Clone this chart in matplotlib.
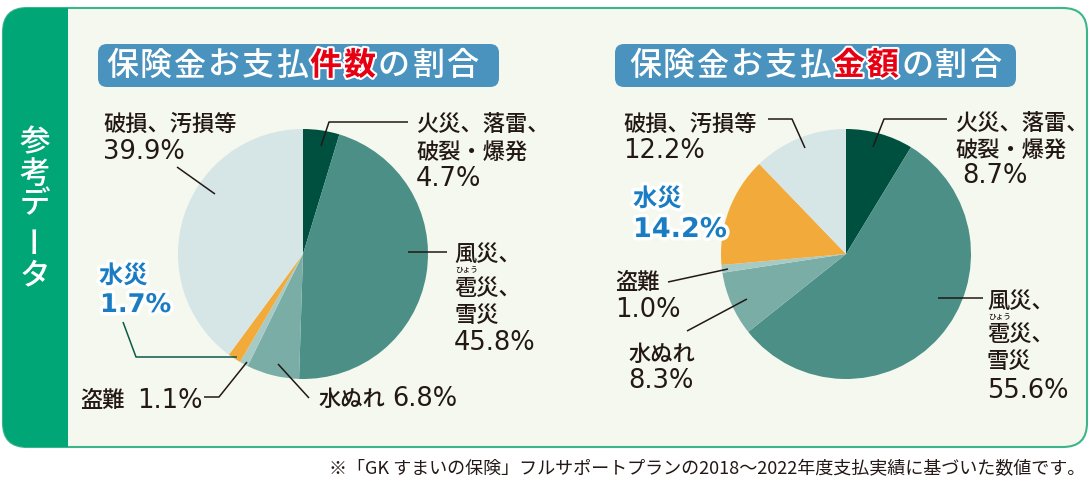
import matplotlib
matplotlib.use("Agg")
import matplotlib.pyplot as plt
import matplotlib.patheffects as pe
from matplotlib.patches import FancyBboxPatch, Rectangle

# data: share of insurance payouts (%) by cause
causes = ["火災、落雷、破裂・爆発", "風災、雹災、雪災", "水ぬれ", "盗難", "水災", "破損、汚損等"]
count_share = [4.7, 45.8, 6.8, 1.1, 1.7, 39.9]
amount_share = [8.7, 55.6, 8.3, 1.0, 14.2, 12.2]
slice_colors = ["#00503f", "#4b8f86", "#7bada7", "#a6cbc6", "#f2ab3b", "#d6e5e5"]
title_left = ["保険金お支払", "件数", "の割合"]
title_right = ["保険金お支払", "金額", "の割合"]
side_title = "参考データ"
footnote = "※「GK すまいの保険」フルサポートプランの2018〜2022年度支払実績に基づいた数値です。"

W, H = 1090, 483
FONT = ["Noto Sans CJK JP", "DejaVu Sans"]
NUM = ["DejaVu Sans"]
TXT = "#231815"
BLUE = "#1a7dc4"
GREEN = "#00a676"
JP_SIZE = 16
NUM_SIZE = 18.5

fig = plt.figure(figsize=(W / 100, H / 100), dpi=100)
fig.patch.set_facecolor("white")
ax = fig.add_axes([0, 0, 1, 1])


def put(x, y, s, size=JP_SIZE, color=TXT, weight="medium", ha="left", family=FONT, **kw):
    return ax.text(x, H - y, s, fontsize=size, color=color, fontweight=weight,
                   ha=ha, va="baseline", family=family, **kw)


def num(x, y, v, size=NUM_SIZE, weight="normal", **kw):
    return put(x, y, f"{v:.1f}%", size=size, family=NUM, weight=weight, **kw)


def leader(pts, color=TXT):
    ax.plot([p[0] for p in pts], [H - p[1] for p in pts], color=color, lw=1.1,
            solid_capstyle="butt", zorder=5)


# outer frame
frame = FancyBboxPatch((3, H - 447), 1084, 439, boxstyle="round,pad=0,rounding_size=24",
                       fc="#f4f8ee", ec="#3db58c", lw=1.5, zorder=0)
ax.add_patch(frame)
strip = FancyBboxPatch((3, H - 447), 1084, 439, boxstyle="round,pad=0,rounding_size=24",
                       fc=GREEN, ec="none", zorder=1)
ax.add_patch(strip)
strip.set_clip_path(Rectangle((0, 0), 68, H, transform=ax.transData))

# vertical side title
for ch, yc in zip(side_title, [143, 174, 205, 238, 276]):
    ax.text(35, H - yc, ch, fontsize=22, color="white", fontweight="medium", family=FONT,
            ha="center", va="center", rotation=90 if ch == "ー" else 0, zorder=3)

# pies
for vals, cx in [(count_share, 303), (amount_share, 846)]:
    ax.pie(vals, colors=slice_colors, startangle=90, counterclock=False,
           center=(cx, H - 254), radius=125, wedgeprops=dict(linewidth=0))

ax.set_xlim(0, W)
ax.set_ylim(0, H)
ax.axis("off")

# title boxes
white_stroke = [pe.withStroke(linewidth=3, foreground="white")]
for parts, bx, tx in [(title_left, 98, 105), (title_right, 615, 628)]:
    ax.add_patch(FancyBboxPatch((bx, H - 87), 401, 43, boxstyle="round,pad=0,rounding_size=9",
                                fc="#4a93be", ec="none", zorder=2))
    i = 0
    for k, part in enumerate(parts):
        for ch in part:
            if k == 1:
                put(tx + 17 + i * 34, 75, ch, size=23, color="#e60012", weight="bold",
                    ha="center", path_effects=white_stroke, zorder=4)
            else:
                put(tx + 17 + i * 34, 75, ch, size=23, color="white", weight="medium",
                    ha="center", zorder=4)
            i += 1

blue_fx = [pe.withStroke(linewidth=5, foreground="white")]

# left pie labels
put(103, 131, "破損、汚損等")
num(103, 159, count_share[5])
leader([(177, 167), (215, 194)])

put(416, 131, "火災、落雷、")
put(416, 160, "破裂・爆発")
num(416, 186, count_share[0])
leader([(321, 146), (329, 122), (408, 122)])

put(454, 261, "風災、")
put(455, 272, "ひょう", size=5.5)
put(454, 295, "雹災、")
put(454, 322, "雪災")
num(454, 350, count_share[1])
leader([(408, 252), (447, 252)])

put(318, 406, "水ぬれ")
num(392, 406, count_share[2])
leader([(278, 364), (309, 398)])

put(80, 407, "盗難")
num(137, 408, count_share[3])
leader([(204, 397), (219, 397), (247, 362)])

put(99, 283, "水災", size=17.5, color=BLUE, weight="bold", path_effects=blue_fx)
num(100, 312, count_share[4], size=18.5, color=BLUE, weight="bold", path_effects=blue_fx)
leader([(123, 322), (136, 357), (237, 357)], color="#0b5a4a")

# right pie labels
put(623, 131, "破損、汚損等")
num(623, 158, amount_share[5])
leader([(768, 119), (792, 119), (805, 148)])

put(633, 206, "水災", size=17.5, color=BLUE, weight="bold", path_effects=blue_fx)
num(633, 237, amount_share[4], size=19.5, color=BLUE, weight="bold", path_effects=blue_fx)

put(615, 289, "盗難")
num(615, 317, amount_share[3])
leader([(668, 282), (728, 269)])

put(628, 361, "水ぬれ")
num(628, 388, amount_share[2])
leader([(687, 331), (747, 299)])

put(955, 130, "火災、落雷、")
put(955, 158, "破裂・爆発")
num(962, 183, amount_share[0])
leader([(873, 147), (884, 119), (947, 119)])

put(987, 308, "風災、")
put(988, 319, "ひょう", size=5.5)
put(987, 341, "雹災、")
put(987, 368, "雪災")
num(987, 398, amount_share[1])
leader([(938, 298), (983, 298)])

# footnote
put(1085, 474, footnote, size=13, ha="right", weight="normal")

fig.savefig("out.png", dpi=100, facecolor="white")
